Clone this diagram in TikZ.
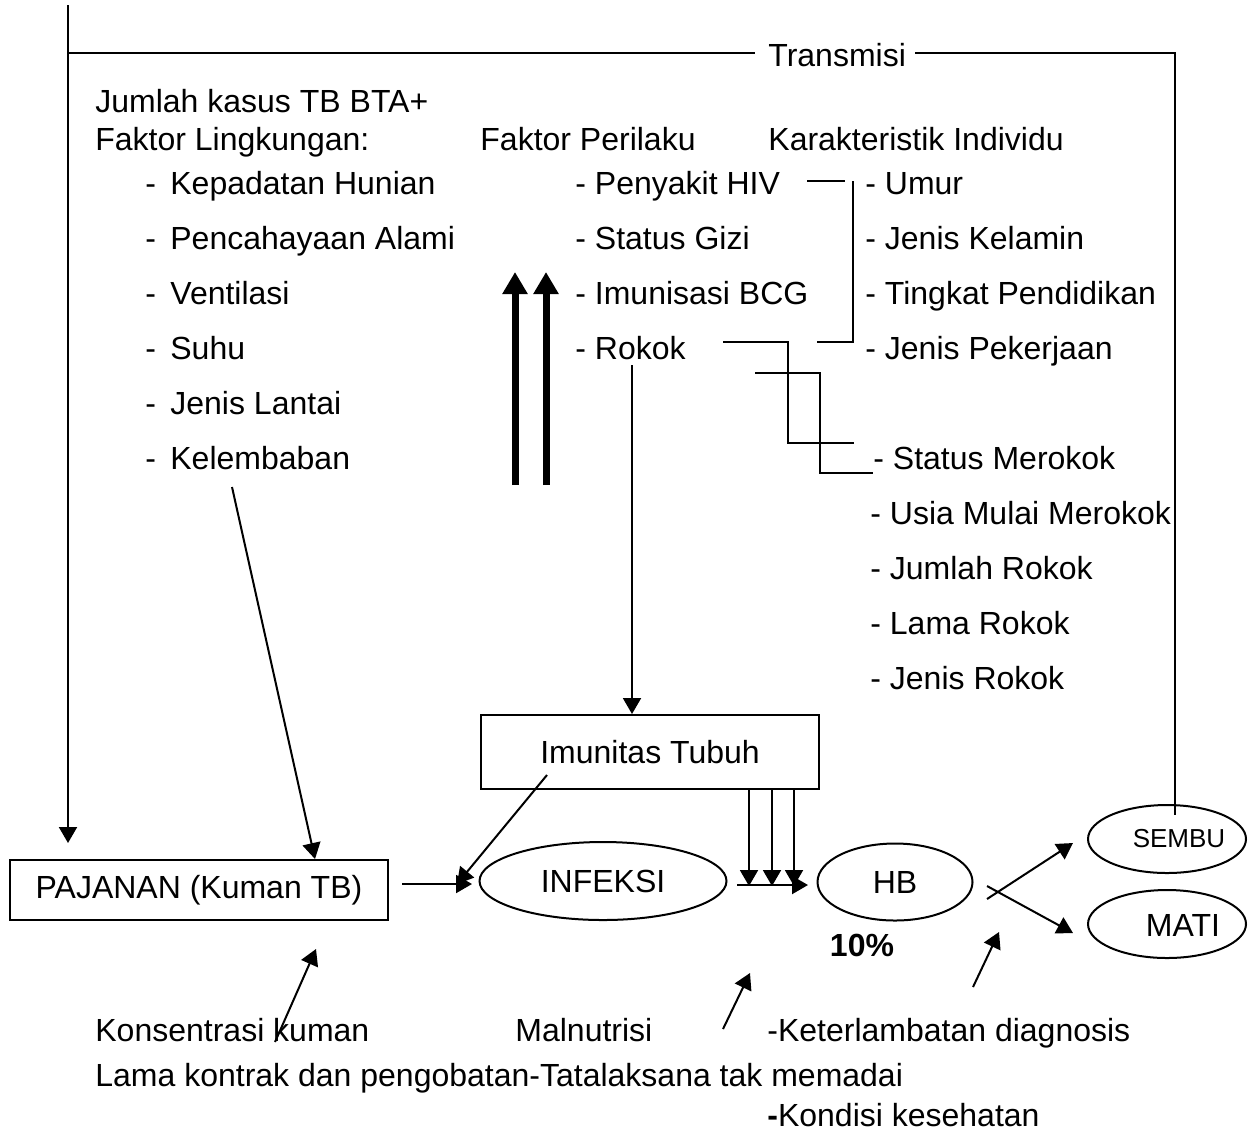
\documentclass[tikz,border=0pt]{standalone}
\usepackage{fontspec}
\setmainfont{Liberation Sans}
\usetikzlibrary{arrows.meta,shapes.geometric}
\begin{document}
\begin{tikzpicture}[x=0.5pt,y=-0.5pt,
  txt/.style={anchor=base west, inner sep=0pt, font=\fontsize{16pt}{19pt}\selectfont},
  lnk/.style={line width=1pt},
  arr/.style={lnk, -{Triangle[length=8pt,width=9pt]}},
  thick arr/.style={line width=3.5pt, -{Triangle[length=11pt,width=12pt]}},
  boxnode/.style={draw, line width=1pt, rectangle, inner sep=0pt, font=\fontsize{16pt}{19pt}\selectfont},
  ellnode/.style={draw, line width=1pt, ellipse, inner sep=0pt, font=\fontsize{16pt}{19pt}\selectfont},
]
\useasboundingbox (0,0) rectangle (1256,1131);

% header texts
\node[txt] (transmisi) at (768,66) {Transmisi};
\node[txt] (jumlah) at (95,112) {Jumlah kasus TB BTA+};
\node[txt] (fling) at (95,150) {Faktor Lingkungan:};
\node[txt] (fper) at (480,150) {Faktor Perilaku};
\node[txt] (kind) at (768,150) {Karakteristik Individu};

% left list
\node[txt] (l1) at (145,194) {\makebox[12.5pt][l]{-}Kepadatan Hunian};
\node[txt] (l2) at (145,249) {\makebox[12.5pt][l]{-}Pencahayaan Alami};
\node[txt] (l3) at (145,304) {\makebox[12.5pt][l]{-}Ventilasi};
\node[txt] (l4) at (145,359) {\makebox[12.5pt][l]{-}Suhu};
\node[txt] (l5) at (145,414) {\makebox[12.5pt][l]{-}Jenis Lantai};
\node[txt] (l6) at (145,469) {\makebox[12.5pt][l]{-}Kelembaban};

% middle list
\node[txt] (m1) at (575,194) {- Penyakit HIV};
\node[txt] (m2) at (575,249) {- Status Gizi};
\node[txt] (m3) at (575,304) {- Imunisasi BCG};
\node[txt] (m4) at (575,359) {- Rokok};

% right list
\node[txt] (r1) at (865,194) {- Umur};
\node[txt] (r2) at (865,249) {- Jenis Kelamin};
\node[txt] (r3) at (865,304) {- Tingkat Pendidikan};
\node[txt] (r4) at (865,359) {- Jenis Pekerjaan};

% rokok sublist
\node[txt] (s1) at (873,469) {- Status Merokok};
\node[txt] (s2) at (870,524) {- Usia Mulai Merokok};
\node[txt] (s3) at (870,579) {- Jumlah Rokok};
\node[txt] (s4) at (870,634) {- Lama Rokok};
\node[txt] (s5) at (870,689) {- Jenis Rokok};

% shapes
\node[boxnode, minimum width=169pt, minimum height=37pt] (imun) at (650,752) {Imunitas Tubuh};
\node[boxnode, minimum width=189pt, minimum height=30pt] (pajanan) at (199,890) {PAJANAN (Kuman TB)};
\node[ellnode, minimum width=123.5pt, minimum height=39pt] (infeksi) at (603,881) {INFEKSI};
\node[ellnode, minimum width=77.5pt, minimum height=38.5pt] (hb) at (895,882) {HB};
\node[ellnode, minimum width=79pt, minimum height=34pt] (sembu) at (1167,839) {};
\node[font=\fontsize{13pt}{15pt}\selectfont, inner sep=0pt] (sembut) at (1179,839) {SEMBU};
\node[ellnode, minimum width=79pt, minimum height=34pt] (mati) at (1167,924) {};
\node[font=\fontsize{16pt}{19pt}\selectfont, inner sep=0pt] (matit) at (1183,925) {MATI};
\node[font=\bfseries\fontsize{16pt}{19pt}\selectfont, inner sep=0pt] (pct) at (862,945) {10\%};

% bottom texts
\node[txt] (b1) at (95,1041) {Konsentrasi kuman};
\node[txt] (b2) at (515,1041) {Malnutrisi};
\node[txt] (b3) at (767,1041) {-Keterlambatan diagnosis};
\node[txt] (b4) at (95,1086) {Lama kontrak dan pengobatan-Tatalaksana tak memadai};
\node[txt] (b5) at (767,1126) {\textbf{-}Kondisi kesehatan};

% coordinates
\coordinate (topL) at (68,5);
\coordinate (cornerL) at (68,53);
\coordinate (tL) at (755,53);
\coordinate (tR) at (915,53);
\coordinate (cornerR) at (1175,53);
\coordinate (sembuIn) at (1175,815);
\coordinate (pajTop) at (68,843);

% transmisi loop
\draw[arr] (topL) -- (pajTop);
\draw[lnk] (cornerL) -- (tL);
\draw[lnk] (tR) -- (cornerR) -- (sembuIn);

% bracket HIV - Karakteristik
\draw[lnk] (807,181) -- (845,181);
\draw[lnk] (853,181) -- (853,342) -- (817,342);

% rokok links
\draw[lnk] (723,342) -- (788,342) -- (788,443) -- (854,443);
\draw[lnk] (755,373) -- (820,373) -- (820,473) -- (873,473);

% thick arrows
\draw[thick arr] (515,485) -- (515,272);
\draw[thick arr] (546,485) -- (546,272);

% arrows
\draw[arr] (232,487) -- (315,859);
\draw[arr] (632,365) -- (imun.north -| 632,0);
\draw[arr] (547,775) -- (457,884);
\draw[arr] (402,884) -- (472,884);
\draw[arr] (737,885) -- (808,885);
\draw[arr] (749,790) -- (749,886);
\draw[arr] (772,790) -- (772,886);
\draw[arr] (794,790) -- (794,886);
\draw[arr] (987,899) -- (1073,843);
\draw[arr] (987,886) -- (1073,933);
\draw[arr] (973,987) -- (999,932);
\draw[arr] (275,1042) -- (316,949);
\draw[arr] (723,1029) -- (750,973);
\end{tikzpicture}
\end{document}
